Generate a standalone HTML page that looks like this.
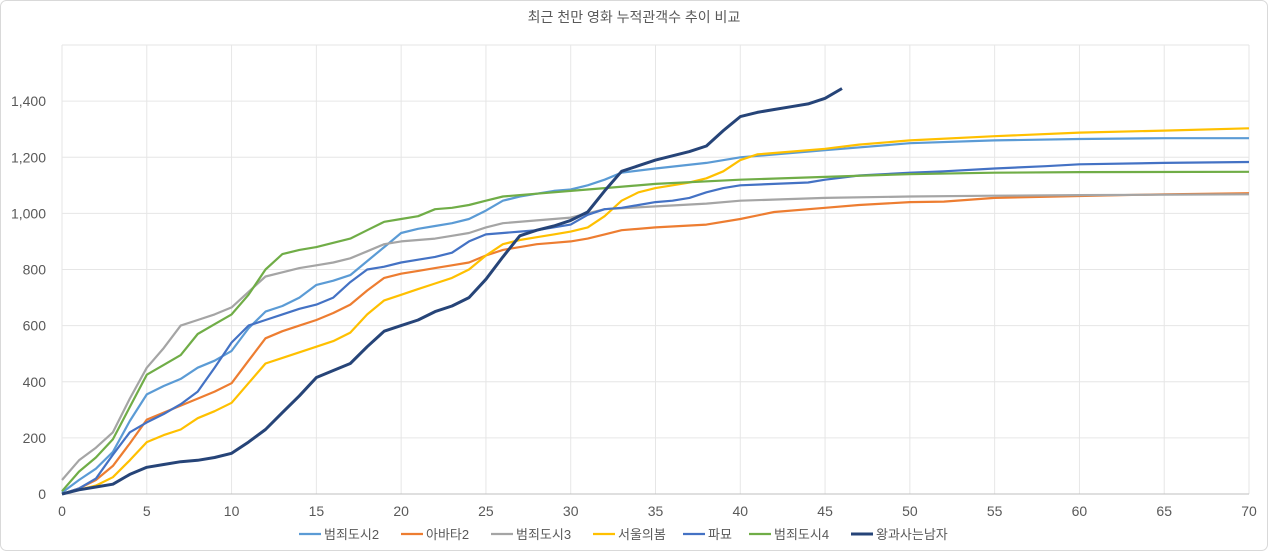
<!DOCTYPE html>
<html><head><meta charset="utf-8"><style>
body{margin:0;background:#fff;}
svg{display:block;font-family:"Liberation Sans","Noto Sans CJK KR",sans-serif;}
</style></head><body>
<svg id="c" width="1268" height="551">
<rect x="0.5" y="0.5" width="1267" height="550" rx="6" fill="#fff" stroke="#d9d9d9"/>
<text x="634" y="22" text-anchor="middle" font-size="14" fill="#595959">최근 천만 영화 누적관객수 추이 비교</text>
<g id="grid"></g><g id="axes"></g><g id="lines"></g><g id="legend"></g>
</svg>
<script>
const seriesNames=["범죄도시2","아바타2","범죄도시3","서울의봄","파묘","범죄도시4","왕과사는남자"];
const seriesColors=["#5B9BD5","#ED7D31","#A5A5A5","#FFC000","#4472C4","#70AD47","#264478"];
const xTicks=[0,5,10,15,20,25,30,35,40,45,50,55,60,65,70];
const yTicks=[0,200,400,600,800,1000,1200,1400];
const s1x=[0,1,2,3,4,5,6,7,8,9,10,11,12,13,14,15,16,17,18,19,20,21,22,23,24,25,26,27,28,29,30,31,32,33,35,38,40,45,50,55,60,65,70];
const s1y=[5,50,90,150,260,355,385,410,450,475,510,590,650,670,700,745,760,780,830,880,930,945,955,965,980,1010,1045,1060,1070,1080,1085,1100,1120,1145,1160,1180,1200,1225,1250,1260,1265,1268,1268];
const s2x=[0,1,2,3,4,5,6,7,8,9,10,11,12,13,14,15,16,17,18,19,20,21,22,23,24,25,26,27,28,29,30,31,32,33,35,38,40,42,45,47,50,52,55,60,65,70];
const s2y=[0,20,50,100,180,265,290,315,340,365,395,475,555,580,600,620,645,675,725,770,785,795,805,815,825,850,870,880,890,895,900,910,925,940,950,960,980,1005,1020,1030,1040,1042,1055,1062,1068,1072];
const s3x=[0,1,2,3,4,5,6,7,8,9,10,11,12,13,14,15,16,17,18,19,20,21,22,23,24,25,26,28,30,32,35,38,40,45,50,55,60,70];
const s3y=[50,120,165,220,340,450,520,600,620,640,665,720,775,790,805,815,825,840,865,890,900,905,910,920,930,950,965,975,985,1015,1025,1035,1045,1055,1060,1063,1065,1068];
const s4x=[0,1,2,3,4,5,6,7,8,9,10,11,12,13,14,15,16,17,18,19,20,21,22,23,24,25,26,27,28,29,30,31,32,33,34,35,36,37,38,39,40,41,42,45,47,50,55,60,65,70];
const s4y=[0,15,30,60,120,185,210,230,270,295,325,395,465,485,505,525,545,575,640,690,710,730,750,770,800,850,890,905,915,925,935,950,990,1045,1075,1090,1100,1110,1125,1150,1190,1210,1215,1230,1245,1260,1275,1288,1295,1303];
const s5x=[0,1,2,3,4,5,6,7,8,9,10,11,12,13,14,15,16,17,18,19,20,21,22,23,24,25,26,27,28,30,31,32,33,34,35,36,37,38,39,40,42,44,45,47,50,52,55,58,60,65,70];
const s5y=[0,20,55,140,220,255,285,320,365,450,540,600,620,640,660,675,700,755,800,810,825,835,845,860,900,925,930,935,940,960,995,1015,1020,1030,1040,1045,1055,1075,1090,1100,1105,1110,1120,1135,1145,1150,1160,1168,1175,1180,1183];
const s6x=[0,1,2,3,4,5,6,7,8,9,10,11,12,13,14,15,16,17,18,19,20,21,22,23,24,25,26,27,28,30,32,35,40,45,50,55,60,70];
const s6y=[10,80,130,195,310,425,460,495,570,605,640,710,800,855,870,880,895,910,940,970,980,990,1015,1020,1030,1045,1060,1065,1070,1080,1090,1105,1120,1130,1140,1145,1147,1148];
const s7x=[0,1,2,3,4,5,6,7,8,9,10,11,12,13,14,15,16,17,18,19,20,21,22,23,24,25,26,27,28,29,30,31,32,33,34,35,36,37,38,39,40,41,42,43,44,45,46];
const s7y=[0,15,25,35,70,95,105,115,120,130,145,185,230,290,350,415,440,465,525,580,600,620,650,670,700,765,845,920,940,955,975,1005,1080,1150,1170,1190,1205,1220,1240,1295,1345,1360,1370,1380,1390,1410,1445];
const XS=[s1x,s2x,s3x,s4x,s5x,s6x,s7x], YS=[s1y,s2y,s3y,s4y,s5y,s6y,s7y];
const NS="http://www.w3.org/2000/svg";
const X0=62,X1=1249,Y0=494,Y1=45,XMAX=70,YMAX=1600;
const sx=v=>X0+(X1-X0)*v/XMAX, sy=v=>Y0-(Y0-Y1)*v/YMAX;
function mk(t,a,p){const e=document.createElementNS(NS,t);for(const k in a)e.setAttribute(k,a[k]);p.appendChild(e);return e;}
const grid=document.getElementById('grid'),axes=document.getElementById('axes'),lines=document.getElementById('lines'),legend=document.getElementById('legend');
[...yTicks,1600].forEach(v=>{const l=mk('line',{x1:X0,x2:X1,y1:sy(v),y2:sy(v),stroke:'#e6e6e6'},grid);

});
xTicks.forEach(v=>{const l=mk('line',{x1:sx(v),x2:sx(v),y1:Y1,y2:Y0,stroke:'#e6e6e6'},grid);

});
yTicks.forEach(v=>{const t=mk('text',{x:46,y:sy(v)+5,'text-anchor':'end','font-size':14,fill:'#595959'},axes);t.textContent=v.toLocaleString('en-US');

});
xTicks.forEach(v=>{const t=mk('text',{x:sx(v),y:516,'text-anchor':'middle','font-size':14,fill:'#595959'},axes);t.textContent=v;

});
const ax=mk('line',{x1:X0,x2:X1,y1:Y0,y2:Y0,stroke:'#bfbfbf'},axes);


XS.forEach((xs,i)=>{const d=xs.map((x,j)=>(j?'L':'M')+sx(x).toFixed(1)+','+sy(YS[i][j]).toFixed(1)).join('');
const p=mk('path',{d:d,fill:'none',stroke:seriesColors[i],'stroke-width':i==6?3:2.2,'stroke-linejoin':'round'},lines);

});
const lw=[102,90,102,90,66,102,118];const tot=lw.reduce((a,b)=>a+b,0);let lx=634-tot/2;
seriesNames.forEach((n,i)=>{const g=mk('g',{},legend);


mk('line',{x1:lx,x2:lx+22,y1:534,y2:534,stroke:seriesColors[i],'stroke-width':i==6?3:2.2},g);
const t=mk('text',{x:lx+25,y:539,'font-size':13,fill:'#595959'},g);t.textContent=n;lx+=lw[i];});
</script>
</body></html>
